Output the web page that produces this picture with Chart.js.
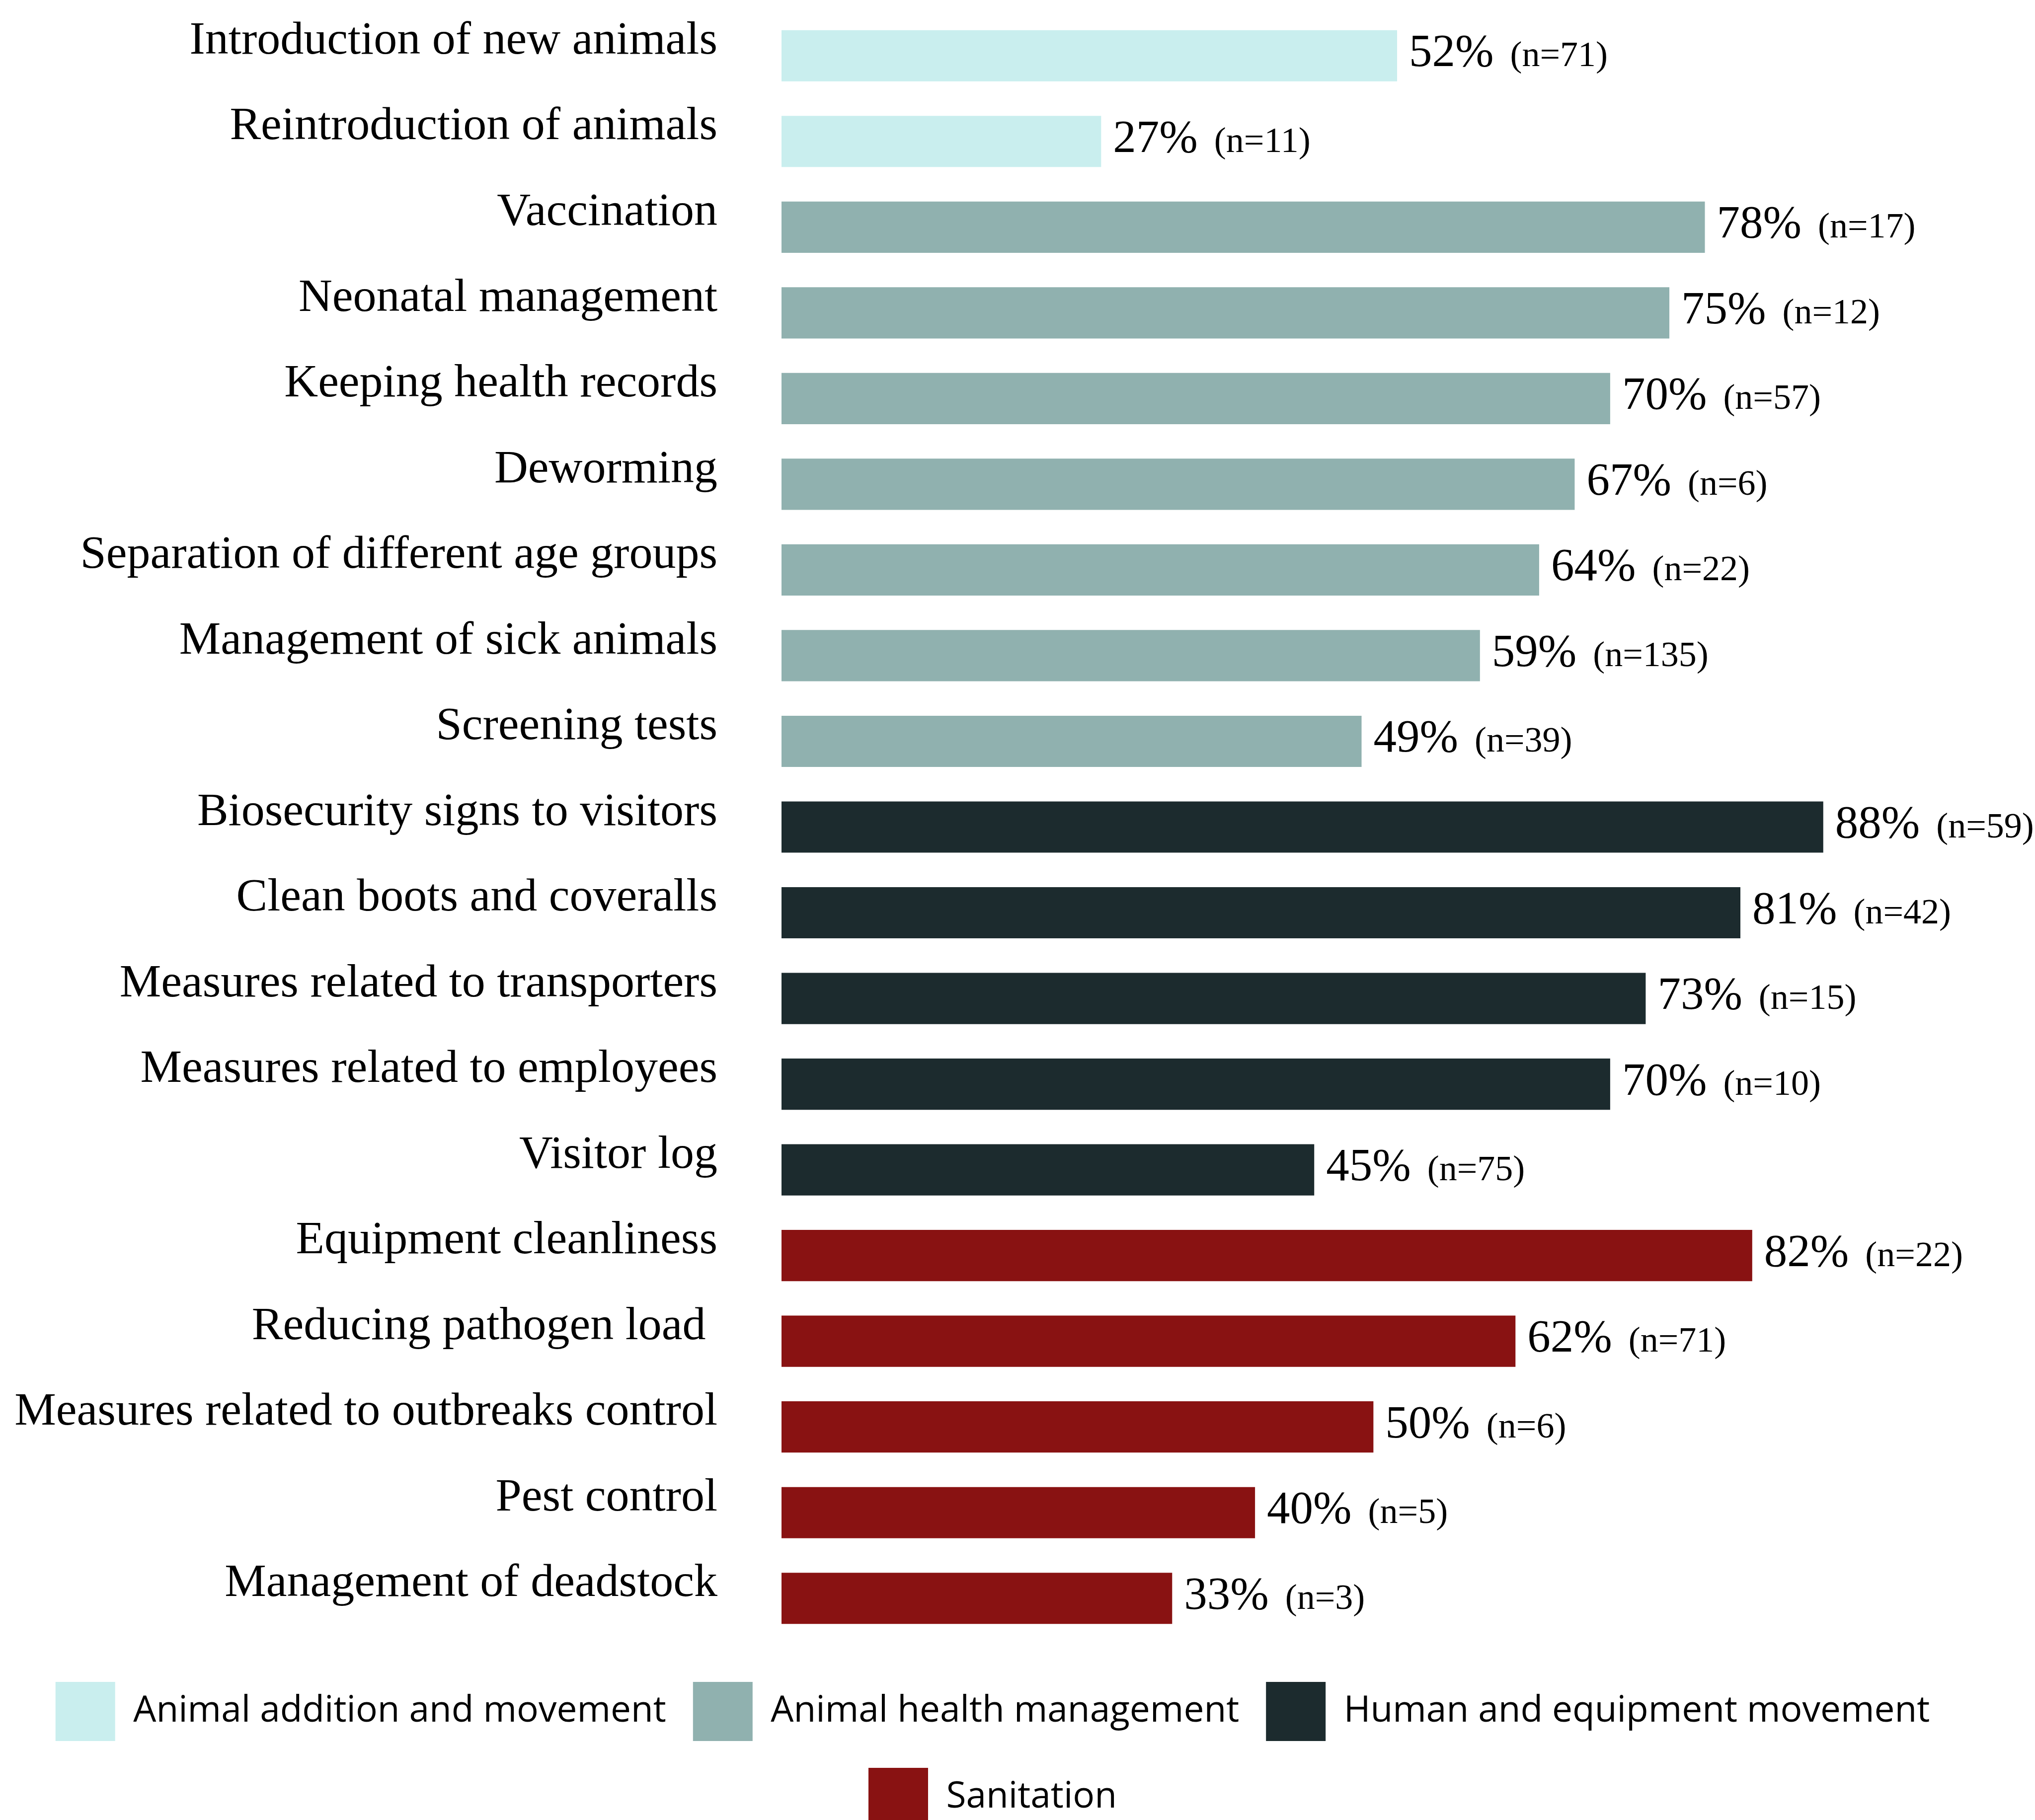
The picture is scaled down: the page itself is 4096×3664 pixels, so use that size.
<!DOCTYPE html>
<html>
<head>
<meta charset="utf-8">
<script src="https://cdn.jsdelivr.net/npm/chart.js@4/dist/chart.umd.min.js"></script>
<style>
  html, body { margin: 0; padding: 0; background: #fff; overflow: hidden; }
  #wrap { width: 4096px; height: 3688px; }
</style>
</head>
<body>
<div id="wrap"><canvas id="measuresChart" width="4096" height="3688"></canvas></div>
<script>
// biosecurity measures, share of farms (%) and number of answers
const measures = [
    "Introduction of new animals",
    "Reintroduction of animals",
    "Vaccination",
    "Neonatal management",
    "Keeping health records",
    "Deworming",
    "Separation of different age groups",
    "Management of sick animals",
    "Screening tests",
    "Biosecurity signs to visitors",
    "Clean boots and coveralls",
    "Measures related to transporters",
    "Measures related to employees",
    "Visitor log",
    "Equipment cleanliness",
    "Reducing pathogen load ",
    "Measures related to outbreaks control",
    "Pest control",
    "Management of deadstock"
];
const percents = [52, 27, 78, 75, 70, 67, 64, 59, 49, 88, 81, 73, 70, 45, 82, 62, 50, 40, 33];
const nAnswers = [71, 11, 17, 12, 57, 6, 22, 135, 39, 59, 42, 15, 10, 75, 22, 71, 6, 5, 3];
// which category each measure belongs to (index into groupNames)
const groupOf = [0, 0, 1, 1, 1, 1, 1, 1, 1, 2, 2, 2, 2, 2, 3, 3, 3, 3, 3];
const groupNames = [
    "Animal addition and movement",
    "Animal health management",
    "Human and equipment movement",
    "Sanitation"
];
const groupColors = ["#C9EEEE", "#90B1AF", "#1C2B2E", "#891212"];

const serif = "'Liberation Serif', 'Times New Roman', serif";

// one dataset per category, empty where the measure is from another group
const datasets = groupNames.map((name, g) => ({
    label: name,
    data: percents.map((v, i) => groupOf[i] === g ? v : null),
    backgroundColor: groupColors[g],
    borderWidth: 0,
    grouped: false,
    categoryPercentage: 1,
    barPercentage: 0.598
}));

// "52%  (n=71)" next to the end of every bar
const valueLabels = {
    id: "valueLabels",
    afterDatasetsDraw(chart) {
        const ctx = chart.ctx;
        ctx.save();
        ctx.fillStyle = "#000";
        ctx.textAlign = "left";
        ctx.textBaseline = "alphabetic";
        chart.data.datasets.forEach((ds, d) => {
            const meta = chart.getDatasetMeta(d);
            meta.data.forEach((bar, i) => {
                if (ds.data[i] == null) return;
                const x = bar.x + 24;
                const y = bar.y + 21;
                const pct = ds.data[i] + "%";
                ctx.font = "93px " + serif;
                ctx.fillText(pct, x, y);
                const w = ctx.measureText(pct).width;
                ctx.font = "72px " + serif;
                ctx.fillText("(n=" + nAnswers[i] + ")", x + w + 33, y);
            });
        });
        ctx.restore();
    }
};

const ctx = document.getElementById("measuresChart");

new Chart(ctx, {
    type: "bar",
    data: {
        labels: measures,
        datasets: datasets
    },
    options: {
        indexAxis: "y",
        responsive: false,
        animation: false,
        devicePixelRatio: 1,
        layout: {
            padding: { top: 26, right: 100, left: 0, bottom: 0 }
        },
        plugins: {
            legend: {
                position: "bottom",
                labels: {
                    boxWidth: 120,
                    boxHeight: 119,
                    padding: 54,
                    color: "#000",
                    font: { family: "'Open Sans', sans-serif", size: 73 }
                }
            },
            tooltip: { enabled: false }
        },
        scales: {
            x: {
                min: 0,
                max: 101.69,
                grid: { display: false },
                border: { display: false },
                ticks: { display: false },
                afterFit: (scale) => { scale.height = 28; }
            },
            y: {
                grid: { display: false, drawTicks: false },
                border: { display: false },
                ticks: {
                    autoSkip: false,
                    color: "#000",
                    padding: 129,
                    labelOffset: -29,
                    font: { family: serif, size: 94 }
                },
                afterFit: (scale) => {
                    scale.width = 1573;
                    // the label gap should not push the bars down
                    scale.paddingTop = 0;
                    scale.paddingBottom = 0;
                }
            }
        }
    },
    plugins: [valueLabels]
});
</script>
</body>
</html>
